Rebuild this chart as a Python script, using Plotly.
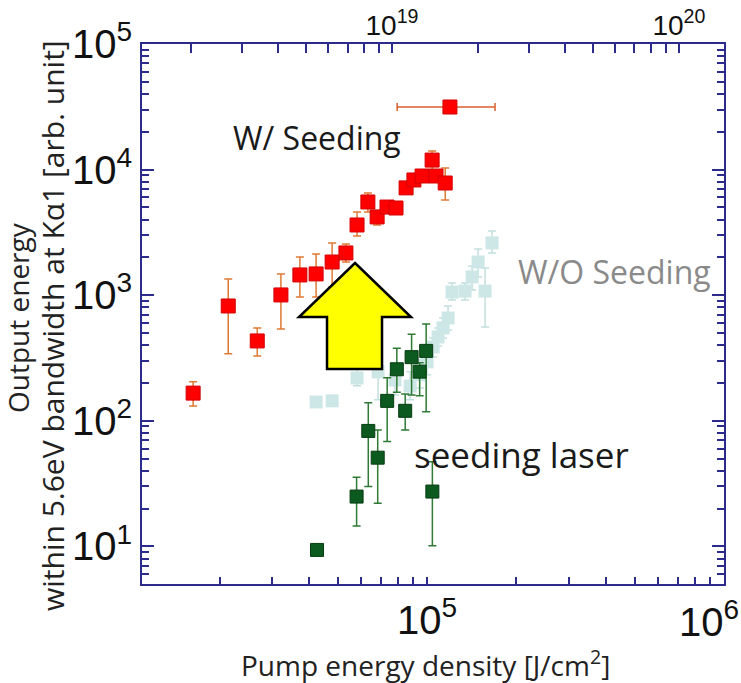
import plotly.graph_objects as go

# ---- W/ Seeding (pump energy density [J/cm^2], output energy [arb. unit]) ----
seed_x = [16300, 21400, 26800, 32200, 37300, 42300, 47900, 53300, 58100, 63200,
          67900, 73300, 78600, 85000, 90300, 96200, 104000, 107200, 115100, 119400]
seed_y = [166, 820, 432, 1004, 1449, 1476, 1837, 2168, 3622, 5521,
          4199, 5032, 4943, 7148, 8265, 8890, 11900, 8890, 7819, 31500]
seed_y_hi = [204, 1346, 548, 1476, 2013, 2128, 2606, 2558, 4593, 6520,
             4593, 5521, 5420, 7681, 8600, 9300, 14070, 9300, 10300, 31500]
seed_y_lo = [131, 341, 328, 538, 968, 968, 1161, 1837, 2958, 4593,
             3622, 4509, 4509, 6520, 7900, 8500, 9930, 8500, 5730, 31500]
seed_x_hi = seed_x[:-1] + [169400]
seed_x_lo = seed_x[:-1] + [79300]

# ---- W/O Seeding ----
noseed_x = [42300, 47900, 58100, 68400, 78000, 87700, 94600, 100000, 104800,
            108900, 113200, 117700, 121400, 134300, 141800, 148600, 156800, 165500]
noseed_y = [141, 144, 219, 245, 211, 189, 232, 294, 387,
            465, 548, 658, 1059, 1078, 1397, 1837, 1078, 2606]
noseed_y_hi = [141, 144, 260, 334, 278, 245, 305, 366, 456,
               548, 658, 820, 1250, 1250, 1706, 2333, 1648, 3246]
noseed_y_lo = [141, 144, 190, 147, 160, 147, 182, 232, 322,
               394, 456, 528, 916, 916, 1099, 1397, 558, 2168]

# ---- seeding laser only ----
laser_x = [42600, 57900, 63400, 68200, 73400, 79100, 84400, 88700, 94400, 99300, 104200]
laser_y = [9.36, 24.9, 83.0, 50.8, 144, 257, 120, 321, 246, 360, 27.3]
laser_y_hi = [9.36, 35.5, 139, 84.5, 220, 378, 163, 488, 290, 590, 47.2]
laser_y_lo = [9.36, 14.5, 29.9, 22.0, 68.2, 169, 84.5, 160, 158, 118, 10.1]

# axis tick labels
y_tickvals = [1e1, 1e2, 1e3, 1e4, 1e5]
y_ticktext = ["10<sup>1</sup>", "10<sup>2</sup>", "10<sup>3</sup>", "10<sup>4</sup>", "10<sup>5</sup>"]
x_tickvals = [1e5]
x_ticktext = ["10<sup>5</sup>"]
x2_tickvals = [1e19, 1e20]
x2_ticktext = ["10<sup>19</sup>", "10<sup>20</sup>"]

NAVY = "#2b2b8c"
W, H = 741, 683
ML, MR, MT, MB = 142, 17, 44, 99
PW, PH = W - ML - MR, H - MT - MB


def px(xp):
    return (xp - ML) / PW


def py(yp):
    return (H - MB - yp) / PH


def errs(vals, hi, lo):
    return dict(type="data", symmetric=False,
                array=[h - v for h, v in zip(hi, vals)],
                arrayminus=[v - l for v, l in zip(vals, lo)])


fig = go.Figure()

e = errs(noseed_y, noseed_y_hi, noseed_y_lo)
fig.add_trace(go.Scatter(
    x=noseed_x, y=noseed_y, mode="markers", name="W/O Seeding",
    marker=dict(symbol="square", size=13, color="#cce7e5"),
    error_y=dict(**e, color="#c2dfdd", thickness=1.5, width=4),
))

e = errs(laser_y, laser_y_hi, laser_y_lo)
fig.add_trace(go.Scatter(
    x=laser_x, y=laser_y, mode="markers", name="seeding laser",
    marker=dict(symbol="square", size=13, color="#0c5a1f",
                line=dict(color="#063d12", width=1)),
    error_y=dict(**e, color="#2f7a35", thickness=1.5, width=4),
))

e = errs(seed_y, seed_y_hi, seed_y_lo)
ex = errs(seed_x, seed_x_hi, seed_x_lo)
fig.add_trace(go.Scatter(
    x=seed_x, y=seed_y, mode="markers", name="W/ Seeding",
    marker=dict(symbol="square", size=14, color="#ff0000",
                line=dict(color="#d40000", width=1)),
    error_y=dict(**e, color="#de7a34", thickness=1.5, width=4),
    error_x=dict(**ex, color="#d9602c", thickness=1.5, width=4),
))

# secondary (top) axis carrier
fig.add_trace(go.Scatter(x=[], y=[], xaxis="x2", showlegend=False, hoverinfo="skip"))

tickfont = dict(family="Liberation Sans, Arial, sans-serif", size=40, color="#111")
minor = dict(ticks="inside", ticklen=7, tickwidth=1.5, tickcolor=NAVY, dtick="D1", showgrid=False)

fig.update_layout(
    width=W, height=H,
    margin=dict(l=ML, r=MR, t=MT, b=MB, autoexpand=False),
    paper_bgcolor="white", plot_bgcolor="white",
    showlegend=False,
    xaxis=dict(
        type="log", range=[4.04, 6.0], showgrid=False, zeroline=False, automargin=False,
        showline=True, linecolor=NAVY, linewidth=2,
        ticks="inside", ticklen=7, tickwidth=1.5, tickcolor=NAVY,
        tickmode="array", tickvals=x_tickvals, ticktext=x_ticktext,
        tickfont=tickfont, minor=minor,
    ),
    xaxis2=dict(
        type="log", range=[18.129, 20.157], overlaying="x", side="top",
        showgrid=False, zeroline=False, automargin=False,
        showline=True, linecolor=NAVY, linewidth=2,
        ticks="inside", ticklen=9, tickwidth=1.5, tickcolor=NAVY,
        tickmode="array", tickvals=x2_tickvals, ticktext=x2_ticktext,
        ticklabelstandoff=-4,
        tickfont=dict(family="Liberation Sans, Arial, sans-serif", size=28, color="#111"),
        minor=dict(ticks="inside", ticklen=9, tickwidth=1.5, tickcolor=NAVY, dtick="D1", showgrid=False),
    ),
    yaxis=dict(
        type="log", range=[0.70, 5.0], showgrid=False, zeroline=False, automargin=False,
        showline=True, linecolor=NAVY, linewidth=2, mirror="ticks",
        ticks="inside", ticklen=12, tickwidth=1.5, tickcolor=NAVY,
        tickmode="array", tickvals=y_tickvals, ticktext=y_ticktext, tickfont=tickfont,
        minor=minor,
    ),
)

txt_font = "Open Sans, Lato, sans-serif"
annotations = [
    dict(text="W/ Seeding", x=px(317), y=py(137), font=dict(size=32, color="#1a1a1a")),
    dict(text="W/O Seeding", x=px(614), y=py(271), font=dict(size=32, color="#8a8a8a")),
    dict(text="seeding laser", x=px(521), y=py(454), font=dict(size=35, color="#1a1a1a")),
    dict(text="Pump energy density [J/cm<sup>2</sup>]", x=px(425), y=py(663),
         font=dict(size=28, color="#222")),
    dict(text="Output energy", x=px(18), y=py(318), textangle=-90,
         font=dict(size=28, color="#222")),
    dict(text="within 5.6eV bandwidth at Kα1 [arb. unit]", x=px(53), y=py(326), textangle=-90,
         font=dict(size=30, color="#222")),
    dict(text="10<sup>6</sup>", x=1, y=0, xanchor="right", yanchor="top", xshift=17, yshift=-8,
         font=tickfont),
]
for a in annotations:
    a.setdefault("xanchor", "center")
    a.setdefault("yanchor", "middle")
    f = a["font"]
    f.setdefault("family", txt_font)
    fig.add_annotation(xref="paper", yref="paper", showarrow=False, **a)

# yellow up-arrow
arrow_pts = [(355, 263), (411, 317), (382, 317), (382, 369),
             (327, 369), (327, 317), (299, 317)]
path = "M " + " L ".join(f"{px(a):.4f},{py(b):.4f}" for a, b in arrow_pts) + " Z"
fig.add_shape(type="path", path=path, xref="paper", yref="paper",
              fillcolor="#ffff00", line=dict(color="black", width=2.5), layer="above")

fig.write_html("out.html")
